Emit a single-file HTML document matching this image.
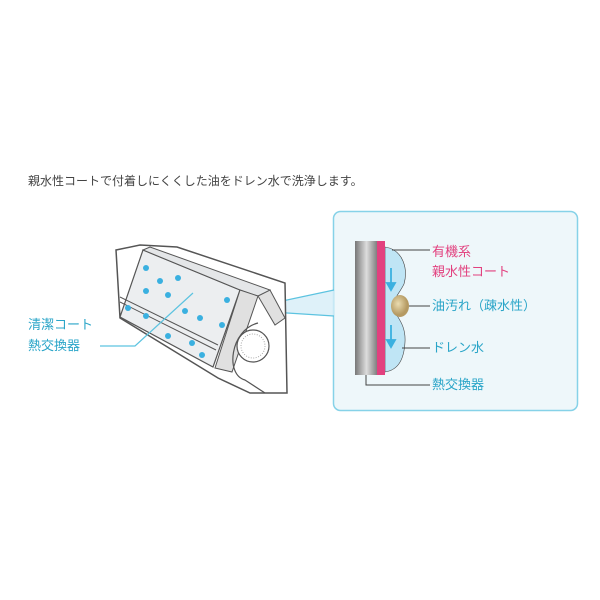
<!DOCTYPE html>
<html><head><meta charset="utf-8"><style>
body{margin:0;width:600px;height:600px;background:#fff;position:relative;overflow:hidden;font-family:"Liberation Sans","Noto Sans CJK JP",sans-serif}
.t{position:absolute;white-space:nowrap;font-size:12px;line-height:14px}
</style></head><body>
<div class="t" style="left:28px;top:174px;color:#444">親水性コートで付着しにくくした油をドレン水で洗浄します。</div>
<svg width="600" height="600" style="position:absolute;left:0;top:0">
<defs>
<linearGradient id="g" x1="0" x2="1"><stop offset="0" stop-color="#777"/><stop offset="0.5" stop-color="#ddd"/><stop offset="1" stop-color="#777"/></linearGradient>
<radialGradient id="o" cx="0.4" cy="0.4"><stop offset="0" stop-color="#eadcb0"/><stop offset="1" stop-color="#b59a62"/></radialGradient>
</defs>
<rect x="333.5" y="211.5" width="244" height="199" rx="7" fill="#eef7fa" stroke="#86d2e8" stroke-width="1.5"/>
<polygon points="240,310 334,290 334,316" fill="#d6eef7" opacity="0.8"/>
<line x1="240" y1="310" x2="334" y2="290" stroke="#5cc3e0" stroke-width="1.2"/>
<line x1="240" y1="310" x2="334" y2="316" stroke="#5cc3e0" stroke-width="1.2"/>
<polygon points="116,250 140,245 177,247 285,283 287,393 250,393 218,378 120,318" fill="#fff" stroke="#555" stroke-width="1.5"/>
<polygon points="143,250 240,290 213,367 120,317" fill="#eceef0" stroke="#555" stroke-width="1.2"/>
<polygon points="143,250 150,247 270,290 260,297 240,290" fill="#e4e6e8" stroke="#555"/>
<line x1="120" y1="297" x2="218" y2="345" stroke="#555"/>
<line x1="120" y1="302" x2="216" y2="350" stroke="#555"/>
<polygon points="240,290 258,296 232,372 215,368" fill="#e0e0e0" stroke="#555"/>
<polygon points="258,296 270,290 285,318 275,325" fill="#e0e0e0" stroke="#555"/>
<circle cx="253" cy="346" r="16" fill="#fff" stroke="#555" stroke-width="1.2"/>
<circle cx="253" cy="346" r="12" fill="none" stroke="#aaa" stroke-dasharray="1 1.5"/>
<path d="M258,323 C230,330 225,375 245,380 L265,393" fill="none" stroke="#555" stroke-width="1.2"/>
<g fill="#3ab0e0">
<circle cx="146" cy="268" r="3"/><circle cx="160" cy="281" r="3"/><circle cx="178" cy="278" r="3"/>
<circle cx="146" cy="291" r="3"/><circle cx="168" cy="295" r="3"/><circle cx="185" cy="311" r="3"/>
<circle cx="200" cy="318" r="3"/><circle cx="128" cy="308" r="3"/><circle cx="146" cy="316" r="3"/>
<circle cx="168" cy="336" r="3"/><circle cx="192" cy="343" r="3"/><circle cx="202" cy="355" r="3"/>
<circle cx="227" cy="300" r="3"/><circle cx="222" cy="325" r="3"/>
</g>
<polyline points="100,346 135,346 193,293" fill="none" stroke="#5cc3e0" stroke-width="1.2"/>
<path d="M385,247 C404,250 408,270 404,284 C400,292 396,296 395,300 L395,312 C398,318 406,326 405,342 C404,360 398,370 385,372 Z" fill="#bfe5f5" stroke="#444" stroke-width="0.6"/>
<rect x="355" y="241" width="23" height="134" fill="url(#g)"/>
<rect x="377" y="241" width="8" height="134" fill="#e2417f"/>
<ellipse cx="400" cy="306" rx="9" ry="11" fill="url(#o)"/>
<g stroke="#3ab0e0" stroke-width="1.8" fill="#3ab0e0"><line x1="391" y1="268" x2="391" y2="285"/><polygon points="387,283 395,283 391,290"/><line x1="391" y1="325" x2="391" y2="342"/><polygon points="387,340 395,340 391,347"/></g>
<g stroke="#444" fill="none" stroke-width="1"><polyline points="392,250 430,250"/><polyline points="409,306 430,306"/><polyline points="402,348 430,348"/><polyline points="366,375 366,385 430,385"/></g>
</svg>
<div class="t" style="left:432px;top:245px;color:#e2417f;font-size:13px">有機系</div>
<div class="t" style="left:432px;top:265px;color:#e2417f;font-size:13px">親水性コート</div>
<div class="t" style="left:432px;top:299px;color:#2aa5c8;font-size:13px">油汚れ（疎水性）</div>
<div class="t" style="left:432px;top:341px;color:#2aa5c8;font-size:13px">ドレン水</div>
<div class="t" style="left:432px;top:378px;color:#2aa5c8;font-size:13px">熱交換器</div>
<div class="t" style="left:28px;top:318px;color:#2aa5c8;font-size:13px">清潔コート</div>
<div class="t" style="left:28px;top:339px;color:#2aa5c8;font-size:13px">熱交換器</div>
</body></html>
